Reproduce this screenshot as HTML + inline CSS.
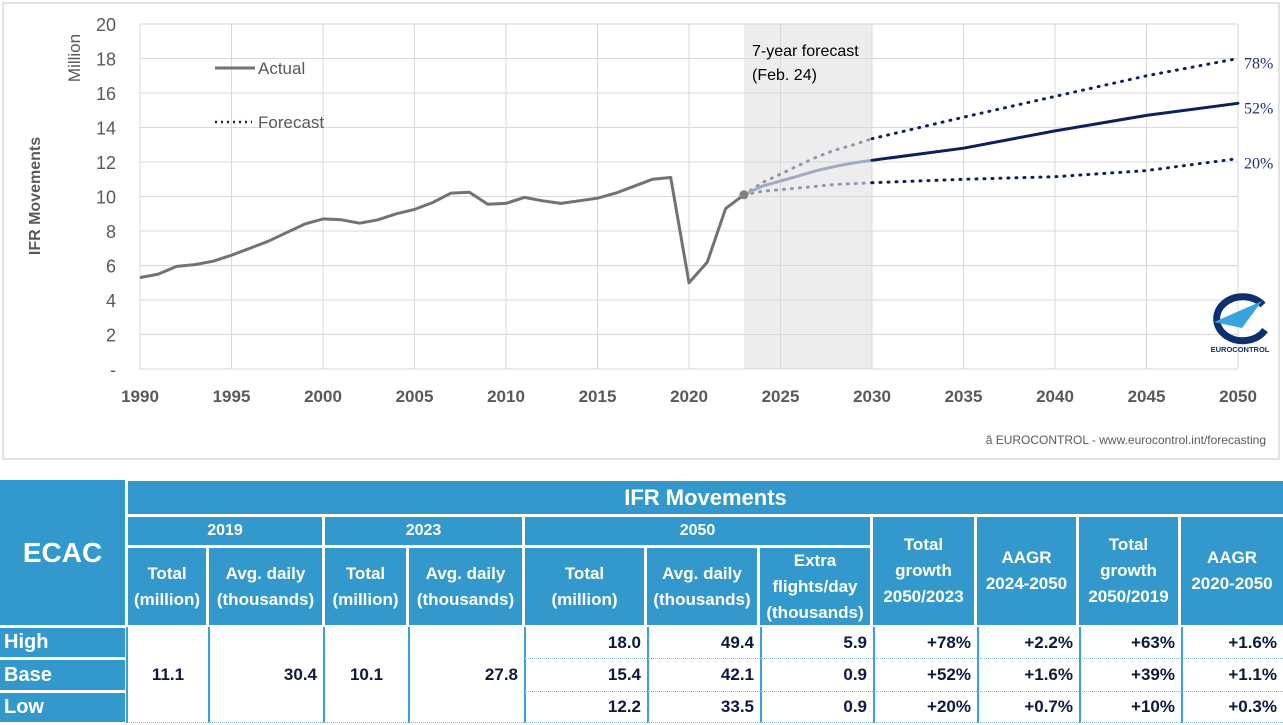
<!DOCTYPE html>
<html><head><meta charset="utf-8">
<style>
body{margin:0;width:1283px;height:725px;background:#fff;font-family:"Liberation Sans",sans-serif;position:relative;overflow:hidden}
.c{position:absolute;box-sizing:border-box;display:flex;align-items:center;justify-content:center;text-align:center;font-weight:bold;color:#fff;background:#3399cc;line-height:26px}
.v{position:absolute;box-sizing:border-box;display:flex;align-items:center;justify-content:flex-end;padding-right:6px;font-weight:bold;color:#101840;background:#fff;font-size:17px;border-left:2px solid #3aa0dc;border-bottom:1px dotted #7fb9d9}
.rl{position:absolute;box-sizing:border-box;display:flex;align-items:center;padding-left:4px;font-weight:bold;color:#fff;background:#3399cc;font-size:20px}
</style></head><body>
<svg id="chart" width="1283" height="470" style="position:absolute;left:0;top:0" font-family="Liberation Sans, sans-serif"></svg>
<div>
<div class="c" style="left:0;top:480px;width:125px;height:145px;font-size:28px">ECAC</div>
<div class="c" style="left:128px;top:481px;width:1155px;height:33px;font-size:22px">IFR Movements</div>
<div class="c" style="left:128px;top:517px;width:194px;height:28px;font-size:16px">2019</div>
<div class="c" style="left:325px;top:517px;width:197px;height:28px;font-size:16px">2023</div>
<div class="c" style="left:525px;top:517px;width:345px;height:28px;font-size:16px">2050</div>
<div class="c" style="left:128px;top:548px;width:78px;height:77px;font-size:17px">Total<br>(million)</div>
<div class="c" style="left:209px;top:548px;width:113px;height:77px;font-size:17px">Avg. daily<br>(thousands)</div>
<div class="c" style="left:325px;top:548px;width:81px;height:77px;font-size:17px">Total<br>(million)</div>
<div class="c" style="left:409px;top:548px;width:113px;height:77px;font-size:17px">Avg. daily<br>(thousands)</div>
<div class="c" style="left:525px;top:548px;width:119px;height:77px;font-size:17px">Total<br>(million)</div>
<div class="c" style="left:647px;top:548px;width:110px;height:77px;font-size:17px">Avg. daily<br>(thousands)</div>
<div class="c" style="left:760px;top:548px;width:110px;height:77px;font-size:17px">Extra<br>flights/day<br>(thousands)</div>
<div class="c" style="left:873px;top:517px;width:101px;height:108px;font-size:17px">Total<br>growth<br>2050/2023</div>
<div class="c" style="left:977px;top:517px;width:99px;height:108px;font-size:17px">AAGR<br>2024-2050</div>
<div class="c" style="left:1079px;top:517px;width:99px;height:108px;font-size:17px">Total<br>growth<br>2050/2019</div>
<div class="c" style="left:1181px;top:517px;width:102px;height:108px;font-size:17px">AAGR<br>2020-2050</div>
<div class="rl" style="left:0;top:628px;width:125px;height:29px">High</div>
<div class="rl" style="left:0;top:660px;width:125px;height:30px">Base</div>
<div class="rl" style="left:0;top:693px;width:125px;height:29px">Low</div>
<div class="v" style="left:126px;top:627px;width:82px;height:96px;justify-content:center;padding:0">11.1</div>
<div class="v" style="left:208px;top:627px;width:115px;height:96px">30.4</div>
<div class="v" style="left:323px;top:627px;width:85px;height:96px;justify-content:center;padding:0">10.1</div>
<div class="v" style="left:408px;top:627px;width:116px;height:96px">27.8</div>
<div id="rows"></div>
</div>
<script>
// ---- chart data ----
const actualYears=[1990,1991,1992,1993,1994,1995,1996,1997,1998,1999,2000,2001,2002,2003,2004,2005,2006,2007,2008,2009,2010,2011,2012,2013,2014,2015,2016,2017,2018,2019,2020,2021,2022,2023];
const actualValues=[5.3,5.5,5.95,6.05,6.25,6.6,7.0,7.4,7.9,8.4,8.7,8.65,8.45,8.65,9.0,9.25,9.65,10.2,10.25,9.55,9.6,9.95,9.75,9.6,9.75,9.9,10.2,10.6,11.0,11.1,5.0,6.2,9.3,10.1];
const forecastYears=[2023,2024,2025,2026,2027,2028,2029,2030,2035,2040,2045,2050];
const highValues=[10.1,10.8,11.3,11.8,12.3,12.7,13.0,13.35,14.6,15.8,17.0,18.0];
const baseValues=[10.1,10.6,10.9,11.2,11.5,11.75,11.95,12.1,12.8,13.8,14.7,15.4];
const lowValues=[10.1,10.3,10.4,10.5,10.6,10.7,10.75,10.8,11.0,11.15,11.5,12.2];
const endLabels=["78%","52%","20%"];
const yTicks=[0,2,4,6,8,10,12,14,16,18,20];
const xTicks=[1990,1995,2000,2005,2010,2015,2020,2025,2030,2035,2040,2045,2050];

const NS="http://www.w3.org/2000/svg";
const svg=document.getElementById('chart');
const X=y=>140+(y-1990)*(1238-140)/60;
const Y=v=>369-v*17.25;
function el(t,a,p){const e=document.createElementNS(NS,t);for(const k in a)e.setAttribute(k,a[k]);(p||svg).appendChild(e);return e;}
function txt(s,a){const e=el('text',a);e.textContent=s;return e;}

const frame=el('rect',{x:3,y:3,width:1276,height:456,fill:'none',stroke:'#d9d9d9','stroke-width':1.5});


const band=el('rect',{x:X(2023),y:Y(20),width:X(2030)-X(2023),height:Y(0)-Y(20),fill:'#ededed'});


yTicks.forEach(t=>{
 const l=el('line',{x1:X(1990),x2:X(2050),y1:Y(t),y2:Y(t),stroke:'#d9d9d9'});
 
 
 const s=txt(t===0?'-':String(t),{x:116,y:Y(t)+7,'text-anchor':'end','font-size':18,fill:'#595959'});
 
 
});
xTicks.forEach(t=>{
 const l=el('line',{x1:X(t),x2:X(t),y1:Y(20),y2:Y(0),stroke:'#d9d9d9'});
 
 
 const s=txt(String(t),{x:X(t),y:402,'text-anchor':'middle','font-size':17,'font-weight':'bold',fill:'#595959'});
 
 
});
function pts(xs,vs,from,to){const r=[];xs.forEach((x,i)=>{if(x>=from&&x<=to)r.push(X(x).toFixed(1)+','+Y(vs[i]).toFixed(1));});return r.join(' ');}
const act=el('polyline',{points:pts(actualYears,actualValues,1990,2023),fill:'none',stroke:'#767171','stroke-width':3,'stroke-linejoin':'round'});


[[highValues,'high',true],[lowValues,'low',true],[baseValues,'base',false]].forEach(([vs,n,dot])=>{
 const a=el('polyline',{points:pts(forecastYears,vs,2023,2030),fill:'none',stroke:dot?'#9096ae':'#a2a9c4','stroke-width':3,'stroke-dasharray':dot?'1 7':'none','stroke-linecap':'round'});
 
 
 const b=el('polyline',{points:pts(forecastYears,vs,2030,2050),fill:'none',stroke:'#0d1f5c','stroke-width':3,'stroke-dasharray':dot?'1 7':'none','stroke-linecap':'round'});
 
 
});
const dotc=el('circle',{cx:X(2023),cy:Y(actualValues[actualValues.length-1]),r:4.5,fill:'#808080'});


[highValues,baseValues,lowValues].forEach((vs,i)=>{
 const s=txt(endLabels[i],{x:1244,y:Y(vs[vs.length-1])+10,'font-size':16,fill:'#1f2f6e','font-family':'Liberation Serif, serif'});
 
 
});
const lg1=el('line',{x1:215,x2:255,y1:68,y2:68,stroke:'#767171','stroke-width':3});


const lt1=txt('Actual',{x:258,y:74,'font-size':17,fill:'#595959'});


const lg2=el('line',{x1:215,x2:252,y1:122,y2:122,stroke:'#0d1f5c','stroke-width':2.5,'stroke-dasharray':'2 4'});


const lt2=txt('Forecast',{x:258,y:128,'font-size':17,fill:'#595959'});


const fa=txt('7-year forecast',{x:752,y:56,'font-size':16,fill:'#000'});


const fb=txt('(Feb. 24)',{x:752,y:80,'font-size':16,fill:'#000'});


const yt=txt('IFR Movements',{x:0,y:0,'font-size':16,'font-weight':'bold',fill:'#595959','text-anchor':'middle',transform:'translate(40,196) rotate(-90)'});


const yu=txt('Million',{x:0,y:0,'font-size':17,fill:'#595959','text-anchor':'middle',transform:'translate(80,58) rotate(-90)'});


const src=txt('ã EUROCONTROL - www.eurocontrol.int/forecasting',{x:1266,y:444,'font-size':12,fill:'#595959','text-anchor':'end'});


const logo=el('g',{});


el('path',{d:'M1263,305 A26,22 0 1,0 1265,330',fill:'none',stroke:'#0d2f6e','stroke-width':7},logo);
el('path',{d:'M1214,322 L1262,301 L1242,328 Z',fill:'#3aa3dc'},logo);
const lt=txt('EUROCONTROL',{x:1240,y:352,'font-size':7.5,'font-weight':'bold',fill:'#0d2f6e','text-anchor':'middle'});



// ---- table rows ----
const rowTotal=['18.0','15.4','12.2'];
const rowDaily=['49.4','42.1','33.5'];
const rowExtra=['5.9','0.9','0.9'];
const rowG23=['+78%','+52%','+20%'];
const rowA24=['+2.2%','+1.6%','+0.7%'];
const rowG19=['+63%','+39%','+10%'];
const rowA20=['+1.6%','+1.1%','+0.3%'];
const cols=[[524,123,rowTotal,'total-2050'],[647,113,rowDaily,'daily-2050'],[760,113,rowExtra,'extra-flights'],[873,104,rowG23,'growth-2050-2023'],[977,102,rowA24,'aagr-2024-2050'],[1079,102,rowG19,'growth-2050-2019'],[1181,102,rowA20,'aagr-2020-2050']];
const tops=[627,659,692];const hs=[32,33,31];
const rows=document.getElementById('rows');
cols.forEach(([x,w,arr,n])=>arr.forEach((v,i)=>{
 const d=document.createElement('div');d.className='v';
 d.style.cssText=`left:${x}px;top:${tops[i]}px;width:${w}px;height:${hs[i]}px`;
 d.textContent=v;
 
 
 rows.appendChild(d);
}));
</script>
</body></html>
